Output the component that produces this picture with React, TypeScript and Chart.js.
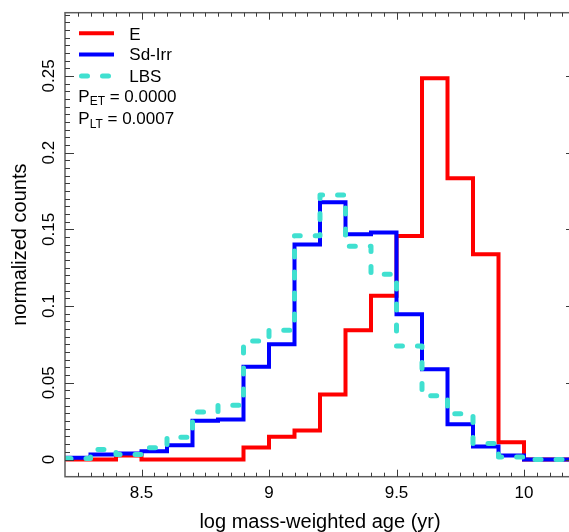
import React, { useEffect, useRef } from "react";
import { Chart, registerables } from "chart.js";

Chart.register(...registerables);

// ---- data ----
const binEdges = [8.2, 8.3, 8.4, 8.5, 8.6, 8.7, 8.8, 8.9, 9.0, 9.1, 9.2, 9.3, 9.4, 9.5, 9.6, 9.7, 9.8, 9.9, 10.0, 10.1, 10.2];
const eCounts = [0, 0, 0.0026, 0, 0, 0, 0, 0.0078, 0.0148, 0.0189, 0.0424, 0.0843, 0.1067, 0.1457, 0.2485, 0.1833, 0.1337, 0.0112, 0, 0];
const sdIrrCounts = [0.0012, 0.0033, 0.004, 0.0054, 0.0093, 0.0252, 0.026, 0.0604, 0.0752, 0.1402, 0.1676, 0.1468, 0.148, 0.0946, 0.0589, 0.023, 0.0085, 0.0026, 0, 0];
const lbsCounts = [0.0006, 0.0065, 0.0033, 0.0076, 0.0145, 0.031, 0.0354, 0.0772, 0.0843, 0.1459, 0.1724, 0.139, 0.1207, 0.0739, 0.0415, 0.0298, 0.0104, 0.0017, 0, 0];
const xTickValues = [8.5, 9, 9.5, 10];
const yTickValues = [0, 0.05, 0.1, 0.15, 0.2, 0.25];
const seriesNames = ["E", "Sd-Irr", "LBS"];
const seriesColors = ["#ff0000", "#0000ff", "#40e0d0"];
const pLabels = [
  ["ET", "0.0000"],
  ["LT", "0.0007"],
];
const xTitle = "log mass-weighted age (yr)";
const yTitle = "normalized counts";

const FONT = '"Liberation Sans", Arial, Helvetica, sans-serif';

// one point per bin edge; with stepped "before" the value of point i holds from edge i to edge i+1
function toSteps(counts: number[]) {
  return binEdges.map((x, i) => ({ x, y: counts[Math.min(i, counts.length - 1)] }));
}

const decorPlugin = {
  id: "decor",
  afterDraw(chart: any) {
    const { ctx, chartArea, scales } = chart;
    const { left, right, top, bottom } = chartArea;
    const xs = scales.x;
    const ys = scales.y;
    ctx.save();

    // frame
    ctx.strokeStyle = "#5e5e5e";
    ctx.lineWidth = 1.5;
    ctx.strokeRect(left, top, right - left, bottom - top);

    // ticks (inside)
    ctx.strokeStyle = "#3a3a3a";
    ctx.lineWidth = 1;
    ctx.beginPath();
    for (let k = 165; k <= 204; k++) {
      const v = k * 0.05;
      const px = Math.round(xs.getPixelForValue(v)) + 0.5;
      const len = k % 10 === 0 ? 7 : 4;
      ctx.moveTo(px, bottom);
      ctx.lineTo(px, bottom - len);
      ctx.moveTo(px, top);
      ctx.lineTo(px, top + len);
    }
    for (let k = 0; k <= 58; k++) {
      const v = k * 0.005;
      const py = Math.round(ys.getPixelForValue(v)) + 0.5;
      const len = k % 10 === 0 ? 9 : 5;
      ctx.moveTo(left, py);
      ctx.lineTo(left + len, py);
      ctx.moveTo(right, py);
      ctx.lineTo(right - len, py);
    }
    ctx.stroke();

    // tick labels
    ctx.fillStyle = "#000";
    ctx.font = `17px ${FONT}`;
    ctx.textAlign = "center";
    ctx.textBaseline = "alphabetic";
    xTickValues.forEach((v) => {
      ctx.fillText(String(v), xs.getPixelForValue(v), 497.5);
    });
    yTickValues.forEach((v) => {
      ctx.save();
      ctx.translate(53.5, ys.getPixelForValue(v));
      ctx.rotate(-Math.PI / 2);
      ctx.fillText(String(v), 0, 0);
      ctx.restore();
    });

    // axis titles
    ctx.font = `20px ${FONT}`;
    ctx.fillText(xTitle, (left + right) / 2, 527.5);
    ctx.save();
    ctx.translate(25.5, (top + bottom) / 2);
    ctx.rotate(-Math.PI / 2);
    ctx.fillText(yTitle, 0, 0);
    ctx.restore();

    // legend
    const rowsY = [33.3, 54.5, 76];
    const baseY = [39.5, 60.3, 81.7];
    ctx.font = `17px ${FONT}`;
    ctx.textAlign = "left";
    seriesNames.forEach((name, i) => {
      ctx.save();
      ctx.strokeStyle = seriesColors[i];
      if (i === 2) {
        ctx.lineWidth = 5;
        ctx.lineCap = "round";
        ctx.setLineDash([6, 15]);
        ctx.beginPath();
        ctx.moveTo(81.5, rowsY[i]);
        ctx.lineTo(108.5, rowsY[i]);
        ctx.stroke();
      } else {
        ctx.lineWidth = 4;
        ctx.lineCap = "butt";
        ctx.beginPath();
        ctx.moveTo(79, rowsY[i]);
        ctx.lineTo(114, rowsY[i]);
        ctx.stroke();
      }
      ctx.restore();
      ctx.fillText(name, 129.3, baseY[i]);
    });

    // P values
    const pBase = [101.7, 124];
    pLabels.forEach(([sub, val], i) => {
      let x = 78.3;
      ctx.font = `17px ${FONT}`;
      ctx.fillText("P", x, pBase[i]);
      x += ctx.measureText("P").width;
      ctx.font = `12px ${FONT}`;
      ctx.fillText(sub, x, pBase[i] + 3.5);
      x += ctx.measureText(sub).width;
      ctx.font = `17px ${FONT}`;
      ctx.fillText(" = " + val, x, pBase[i]);
    });

    ctx.restore();
  },
};

export default function App() {
  const canvasRef = useRef<HTMLCanvasElement | null>(null);

  useEffect(() => {
    if (!canvasRef.current) return;
    const common = {
      stepped: "before",
      pointRadius: 0,
      fill: false,
    };
    const chart = new Chart(canvasRef.current, {
      type: "line",
      data: {
        datasets: [
          {
            ...common,
            label: seriesNames[0],
            data: toSteps(eCounts),
            borderColor: seriesColors[0],
            borderWidth: 4,
            borderJoinStyle: "miter",
            borderCapStyle: "butt",
            order: 3,
          },
          {
            ...common,
            label: seriesNames[1],
            data: toSteps(sdIrrCounts),
            borderColor: seriesColors[1],
            borderWidth: 4,
            borderJoinStyle: "miter",
            borderCapStyle: "butt",
            order: 2,
          },
          {
            ...common,
            label: seriesNames[2],
            data: toSteps(lbsCounts),
            borderColor: seriesColors[2],
            borderWidth: 5,
            borderDash: [6, 15],
            borderJoinStyle: "round",
            borderCapStyle: "round",
            order: 1,
          },
        ],
      },
      options: {
        animation: false,
        responsive: false,
        maintainAspectRatio: false,
        devicePixelRatio: 1,
        layout: { padding: { left: 65, top: 12.7, right: 25, bottom: 55.3 } },
        scales: {
          x: { type: "linear", min: 8.2, max: 10.2, display: false },
          y: { type: "linear", min: -0.0112, max: 0.2912, display: false },
        },
        plugins: {
          legend: { display: false },
          tooltip: { enabled: false },
        },
        events: [],
      },
      plugins: [decorPlugin],
    } as any);
    return () => chart.destroy();
  }, []);

  return (
    <div
      style={{
        position: "fixed",
        left: 0,
        top: 0,
        width: 569,
        height: 532,
        overflow: "hidden",
        background: "#fff",
      }}
    >
      <canvas ref={canvasRef} width={600} height={532} style={{ width: 600, height: 532, display: "block" }} />
    </div>
  );
}
